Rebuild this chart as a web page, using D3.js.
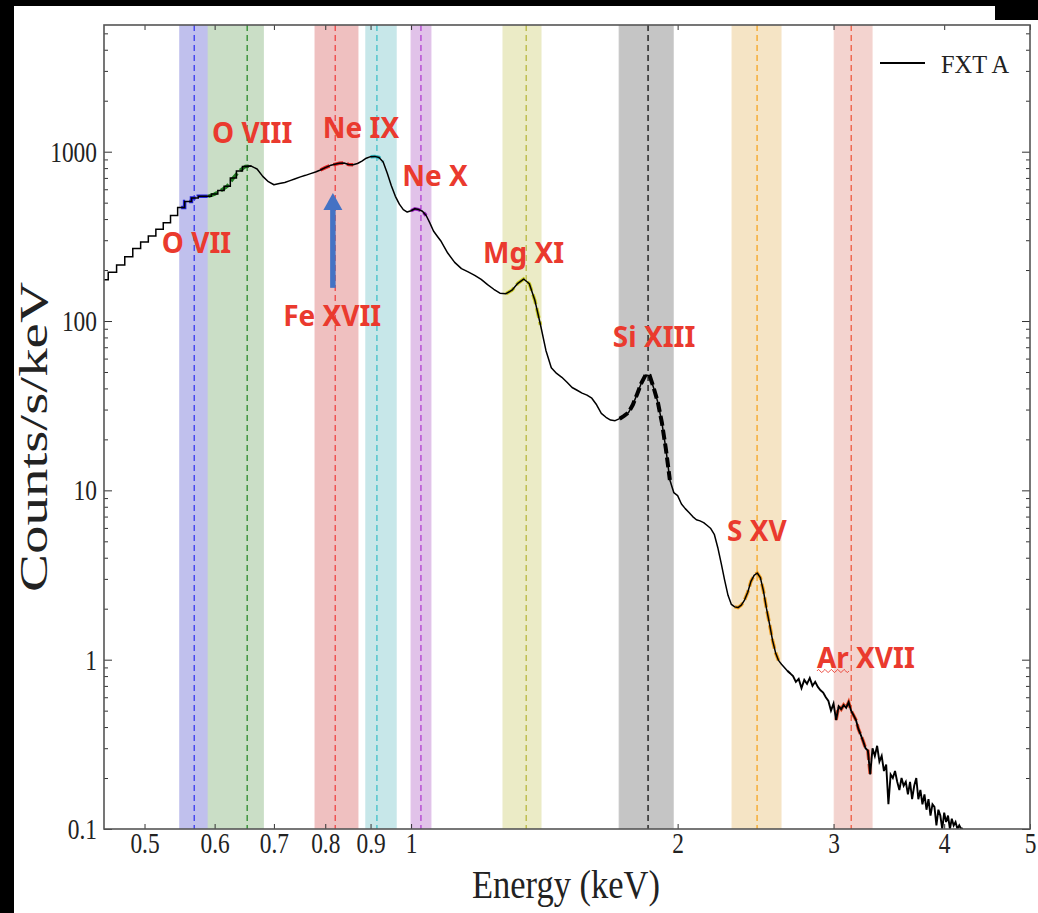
<!DOCTYPE html>
<html>
<head>
<meta charset="utf-8">
<script src="https://cdn.jsdelivr.net/npm/d3@7"></script>
<style>
  html, body { margin: 0; padding: 0; background: #fff; }
  svg { display: block; }
</style>
</head>
<body>
<svg id="chart" width="1038" height="913"></svg>
<script>
// ---------------- DATA ----------------
// Spectrum (FXT A): bin energies (keV) and counts/s/keV
const energyLow = [0.45,0.46,0.47,0.48,0.49,0.50,0.51,0.52,0.53,0.54,0.55,0.56,0.57,0.58,0.59,
  0.60,0.61,0.62,0.63,0.64,0.65];
const countsLow = [175,194,214,240,268,293,318,348,380,420,468,508,533,546,545,
  562,590,625,700,770,818];
const energyMid = [0.66,0.67,0.68,0.69,0.70,0.71,0.72,0.73,0.74,0.75,0.76,0.77,0.78,0.79,
  0.80,0.81,0.82,0.83,0.84,0.85,0.86,0.87,0.88,0.89,0.90,0.91,0.92,0.93,0.94,0.95,0.96,0.97,0.98,0.99,
  1.00,1.01,1.02,1.03,1.04,1.05,1.06,1.07,1.08,
  1.10,1.12,1.14,1.16,1.18,1.20,1.22,1.24,1.26,1.28,1.30,1.32,1.34,1.36,1.38,1.40,
  1.42,1.44,1.46,1.48,1.50,1.52,1.54,1.56,1.58,1.60,1.62,1.64,1.66,1.68,1.70,1.72,1.74,1.76,1.78,1.80,
  1.82,1.84,1.86,1.88,1.90,1.92,1.94,1.96,1.98,2.00,2.02,2.04,2.06,2.08,2.10,2.12,2.14,2.16,2.18,2.20,
  2.22,2.24,2.26,2.28,2.30,2.32,2.34,2.36,2.38,2.40,2.42,2.44,2.46,2.48,2.50,2.52,2.54,2.56,2.58,2.60,
  2.62,2.64,2.66];
const countsMid = [822,790,715,665,638,648,658,675,692,710,725,742,758,780,
  805,828,842,855,858,840,838,852,880,915,935,938,925,870,745,630,545,490,455,440,
  448,460,455,445,420,380,340,318,298,
  252,222,204,195,186,176,164,154,146,145,152,167,177,166,132,95,
  67,53,49,46.5,43.5,40.5,39,37.5,36.5,35,32,28.5,27,26,25.8,26.5,27.5,28.8,32,37,
  43,48,47.5,40,33,25,17.5,11.5,9.7,9.3,8.3,7.8,7.4,7.0,6.7,6.6,6.45,6.2,5.95,5.5,
  4.6,3.7,2.95,2.4,2.12,2.05,2.03,2.1,2.25,2.5,2.9,3.15,3.25,3.05,2.55,2.0,1.62,1.3,1.1,0.99,
  0.94,0.9,0.86];
const energyHigh = [2.68,2.70,2.72,2.74,2.76,2.78,2.80,2.82,2.84,2.86,2.88,2.90,2.92,2.94,2.96,2.98,
  3.00,3.02,3.04,3.06,3.08,3.10,3.12,3.14,3.16,3.18,3.20,3.22,3.24,3.26,3.28,3.30,3.32,3.34,3.36,3.38,
  3.40,3.42,3.44,3.46,3.48,3.50,3.52,3.54,3.56,3.58,3.60,3.62,3.64,3.66,3.68,3.70,3.72,3.74,3.76,3.78,
  3.80,3.82,3.84,3.86,3.88,3.90,3.92,3.94,3.96,3.98,4.00,4.02,4.04,4.06,4.08,4.10,4.12,4.14,4.16,4.18,4.20];
const countsHigh = [0.83,0.80,0.74,0.77,0.68,0.76,0.72,0.78,0.70,0.74,0.69,0.66,0.64,0.60,0.57,0.50,
  0.55,0.44,0.53,0.51,0.54,0.52,0.56,0.50,0.47,0.44,0.39,0.36,0.33,0.30,0.29,0.21,0.30,0.27,0.31,0.25,
  0.27,0.22,0.24,0.14,0.21,0.20,0.22,0.19,0.17,0.20,0.18,0.19,0.16,0.19,0.15,0.18,0.20,0.15,0.17,0.14,
  0.16,0.13,0.15,0.12,0.14,0.135,0.105,0.13,0.12,0.10,0.125,0.11,0.12,0.10,0.115,0.105,0.11,0.10,0.105,0.10,0.101];

// Emission lines
const lineNames  = ["O VII","O VIII","Fe XVII","Ne IX","Ne X","Mg XI","Si XIII","S XV","Ar XVII"];
const lineEnergy = [0.569,0.653,0.821,0.915,1.026,1.349,1.852,2.459,3.141];
const bandLo     = [0.548,0.590,0.779,0.889,1.000,1.270,1.718,2.304,3.005];
const bandHi     = [0.590,0.681,0.871,0.962,1.053,1.402,1.977,2.617,3.316];
const fitLo      = [0.548,0.590,0.785,0.895,1.000,1.275,1.720,2.305,3.010];
const fitHi      = [0.590,0.665,0.865,0.930,1.040,1.400,1.975,2.600,3.300];

// Annotation anchors (data coordinates: keV, counts/s/keV)
const labelE = [0.523,0.596,0.717,0.795,0.977,1.206,1.690,2.274,2.873];
const labelV = [252,1127,93.5,1206,628,220,70.3,5.03,0.893];
const arrowE = 0.816, arrowFrom = 157, arrowTo = 571, arrowHeadBase = 453;

const xTicks = [0.5,0.6,0.7,0.8,0.9,1,2,3,4,5];
const xTickLabels = ["0.5","0.6","0.7","0.8","0.9","1","2","3","4","5"];
const yTicks = [0.1,1,10,100,1000];
const yTickLabels = ["0.1","1","10","100","1000"];
const seriesName = "FXT A";

// ---------------- STYLE ----------------
const bandFill = ["#c6c6f4","#d0e5cc","#f6c6c6","#cdeef0","#e8c8f0","#f2f2cc","#cbcbcb","#fdebcb","#fbdad5"];
const lineCol  = ["#3838ee","#2a8a2a","#ee4444","#40c0c8","#b040d0","#b8b840","#111111","#f5a623","#ee5a40"];
const fitCol   = ["#2222dd","#1f7a1f","#e02020","#30b8c0","#9a20c0","#c8c820","#000000","#f0a020","#e85030"];
const red = "#ea3a2e";

const W = 1038, H = 913;
const plot = {left:104, right:1030, top:25, bottom:829};

const svg = d3.select("#chart");
// black borders of the screenshot
svg.append("rect").attr("x",0).attr("y",0).attr("width",W).attr("height",H).attr("fill","#fff");
svg.append("rect").attr("x",0).attr("y",0).attr("width",14).attr("height",H).attr("fill","#000");
svg.append("rect").attr("x",0).attr("y",0).attr("width",W).attr("height",6).attr("fill","#000");
svg.append("rect").attr("x",995).attr("y",5).attr("width",43).attr("height",15).attr("fill","#000");

const x = d3.scaleLog().domain([0.45,5]).range([plot.left, plot.right]);
const y = d3.scaleLog().domain([0.1,5600]).range([plot.bottom, plot.top]);

svg.append("defs").append("clipPath").attr("id","clip")
  .append("rect").attr("x",plot.left).attr("y",plot.top)
  .attr("width",plot.right-plot.left).attr("height",plot.bottom-plot.top);

const g = svg.append("g").attr("clip-path","url(#clip)");

// bands
lineNames.forEach((n,i)=>{
  g.append("rect")
    .attr("x", x(bandLo[i])).attr("y", plot.top)
    .attr("width", x(bandHi[i]) - x(bandLo[i])).attr("height", plot.bottom-plot.top)
    .attr("fill", bandFill[i]).attr("stroke", bandFill[i]).attr("stroke-width",1)
    .style("filter","brightness(0.97)");
});
// dashed line centres
lineNames.forEach((n,i)=>{
  g.append("line")
    .attr("x1", x(lineEnergy[i])).attr("x2", x(lineEnergy[i]))
    .attr("y1", plot.top).attr("y2", plot.bottom)
    .attr("stroke", lineCol[i]).attr("stroke-width",1.3)
    .attr("stroke-dasharray","6,4");
});

const toPts = (es, cs) => es.map((e,i)=>({e:e, c:cs[i]}));
const low = toPts(energyLow, countsLow);
const mid = toPts(energyMid, countsMid);
const high = toPts(energyHigh, countsHigh);
const spec = low.concat(mid, high);

const yv = d => y(Math.max(d.c, 0.05));
const stepGen = d3.line().x(d=>x(d.e)).y(yv).curve(d3.curveStep);
const linGen  = d3.line().x(d=>x(d.e)).y(yv).curve(d3.curveLinear);

// fitted segments (coloured, under the data)
lineNames.forEach((n,i)=>{
  const seg = spec.filter(d=>d.e>=fitLo[i] && d.e<=fitHi[i]);
  g.append("path").datum(seg).attr("d", i<1 ? stepGen : linGen)
    .attr("fill","none").attr("stroke", fitCol[i])
    .attr("stroke-width", i===6 ? 4 : 3.5)
    .attr("stroke-dasharray", "10,4").attr("stroke-linecap","butt");
});

// data: staircase at low energy, fine-binned (smooth) and noisy parts further up
g.append("path").datum(low.concat([mid[0]])).attr("d", stepGen)
  .attr("fill","none").attr("stroke","#000").attr("stroke-width",1.5);
g.append("path").datum([low[low.length-1]].concat(mid, [high[0]])).attr("d", linGen)
  .attr("fill","none").attr("stroke","#000").attr("stroke-width",1.5).attr("stroke-linejoin","round");
g.append("path").datum([mid[mid.length-1]].concat(high)).attr("d", linGen)
  .attr("fill","none").attr("stroke","#000").attr("stroke-width",1.9).attr("stroke-linejoin","miter");

// ---------------- AXES ----------------
const tickFont = "'Liberation Serif','DejaVu Serif',serif";
const sx = 0.78;

function styleAxis(sel){
  sel.select(".domain").remove();
  sel.selectAll(".tick line").attr("stroke","#333").attr("stroke-width",1);
  sel.selectAll("text").attr("font-family",tickFont).attr("font-size",30).attr("fill","#222");
}

const yMinor = [];
[0.1,1,10,100,1000].forEach(d=>{ for(let k=2;k<=9;k++){ const v=d*k; if(v<5600) yMinor.push(v);} });

// left axis
const gl = svg.append("g").attr("transform",`translate(${plot.left},0)`)
  .call(d3.axisLeft(y).tickValues(yTicks).tickSize(-8).tickPadding(9).tickFormat((d,i)=>yTickLabels[i]));
styleAxis(gl);
gl.selectAll("text").attr("transform",`scale(${sx},1)`);
svg.append("g").attr("transform",`translate(${plot.left},0)`)
  .call(d3.axisLeft(y).tickValues(yMinor).tickSize(-4).tickFormat(""))
  .call(s=>{s.select(".domain").remove(); s.selectAll("line").attr("stroke","#333");});
// right axis
svg.append("g").attr("transform",`translate(${plot.right},0)`)
  .call(d3.axisRight(y).tickValues(yTicks).tickSize(-8).tickFormat(""))
  .call(s=>{s.select(".domain").remove(); s.selectAll("line").attr("stroke","#333");});
svg.append("g").attr("transform",`translate(${plot.right},0)`)
  .call(d3.axisRight(y).tickValues(yMinor).tickSize(-4).tickFormat(""))
  .call(s=>{s.select(".domain").remove(); s.selectAll("line").attr("stroke","#333");});

// bottom axis
const gb = svg.append("g").attr("transform",`translate(0,${plot.bottom})`)
  .call(d3.axisBottom(x).tickValues(xTicks).tickSize(-5).tickPadding(3).tickFormat((d,i)=>xTickLabels[i]));
styleAxis(gb);
gb.selectAll(".tick text").attr("transform",`scale(${sx},1)`);
// top axis
svg.append("g").attr("transform",`translate(0,${plot.top})`)
  .call(d3.axisTop(x).tickValues(xTicks).tickSize(-5).tickFormat(""))
  .call(s=>{s.select(".domain").remove(); s.selectAll("line").attr("stroke","#333");});

// frame
svg.append("rect").attr("x",plot.left).attr("y",plot.top)
  .attr("width",plot.right-plot.left).attr("height",plot.bottom-plot.top)
  .attr("fill","none").attr("stroke","#555").attr("stroke-width",1.6);

// axis titles
svg.append("text").attr("x",566).attr("y",898).attr("text-anchor","middle")
  .attr("font-family",tickFont).attr("font-size",40).attr("fill","#222")
  .attr("textLength",188).attr("lengthAdjust","spacingAndGlyphs")
  .text("Energy (keV)");
svg.append("text").attr("transform","translate(47,437) rotate(-90)").attr("text-anchor","middle")
  .attr("font-family",tickFont).attr("font-size",40).attr("fill","#222")
  .attr("textLength",310).attr("lengthAdjust","spacingAndGlyphs")
  .text("Counts/s/keV");

// legend
svg.append("line").attr("x1",880).attr("x2",925).attr("y1",63).attr("y2",63)
  .attr("stroke","#000").attr("stroke-width",1.8);
svg.append("text").attr("x",941).attr("y",73)
  .attr("font-family",tickFont).attr("font-size",26).attr("fill","#222")
  .attr("textLength",68).attr("lengthAdjust","spacingAndGlyphs")
  .text(seriesName);

// ---------------- ANNOTATIONS ----------------
const labFont = "'Noto Sans','Open Sans',Arial,sans-serif";
lineNames.forEach((n,i)=>{
  svg.append("text").attr("x", x(labelE[i])).attr("y", y(labelV[i]))
    .attr("font-family",labFont).attr("font-weight",700).attr("font-size",28)
    .attr("fill",red).text(n);
});
// wavy underline (spell-check mark) under "Ar"
(function(){
  const x0 = x(labelE[8]), y0 = y(labelV[8]) + 3;
  let dpath = `M${x0},${y0}`;
  for (let k=0;k<10;k++){ dpath += ` l1.6,${k%2?1.6:-1.6} l1.6,${k%2?-1.6:1.6}`; }
  svg.append("path").attr("d",dpath).attr("fill","none").attr("stroke",red).attr("stroke-width",0.9);
})();

// blue arrow toward Fe XVII
const ax = x(arrowE);
svg.append("line").attr("x1",ax).attr("x2",ax).attr("y1",y(arrowFrom)).attr("y2",y(arrowHeadBase))
  .attr("stroke","#4472c4").attr("stroke-width",5.5);
svg.append("path")
  .attr("d",`M${ax-9.5},${y(arrowHeadBase)} L${ax+9.5},${y(arrowHeadBase)} L${ax},${y(arrowTo)} Z`)
  .attr("fill","#4472c4");
</script>
</body>
</html>
